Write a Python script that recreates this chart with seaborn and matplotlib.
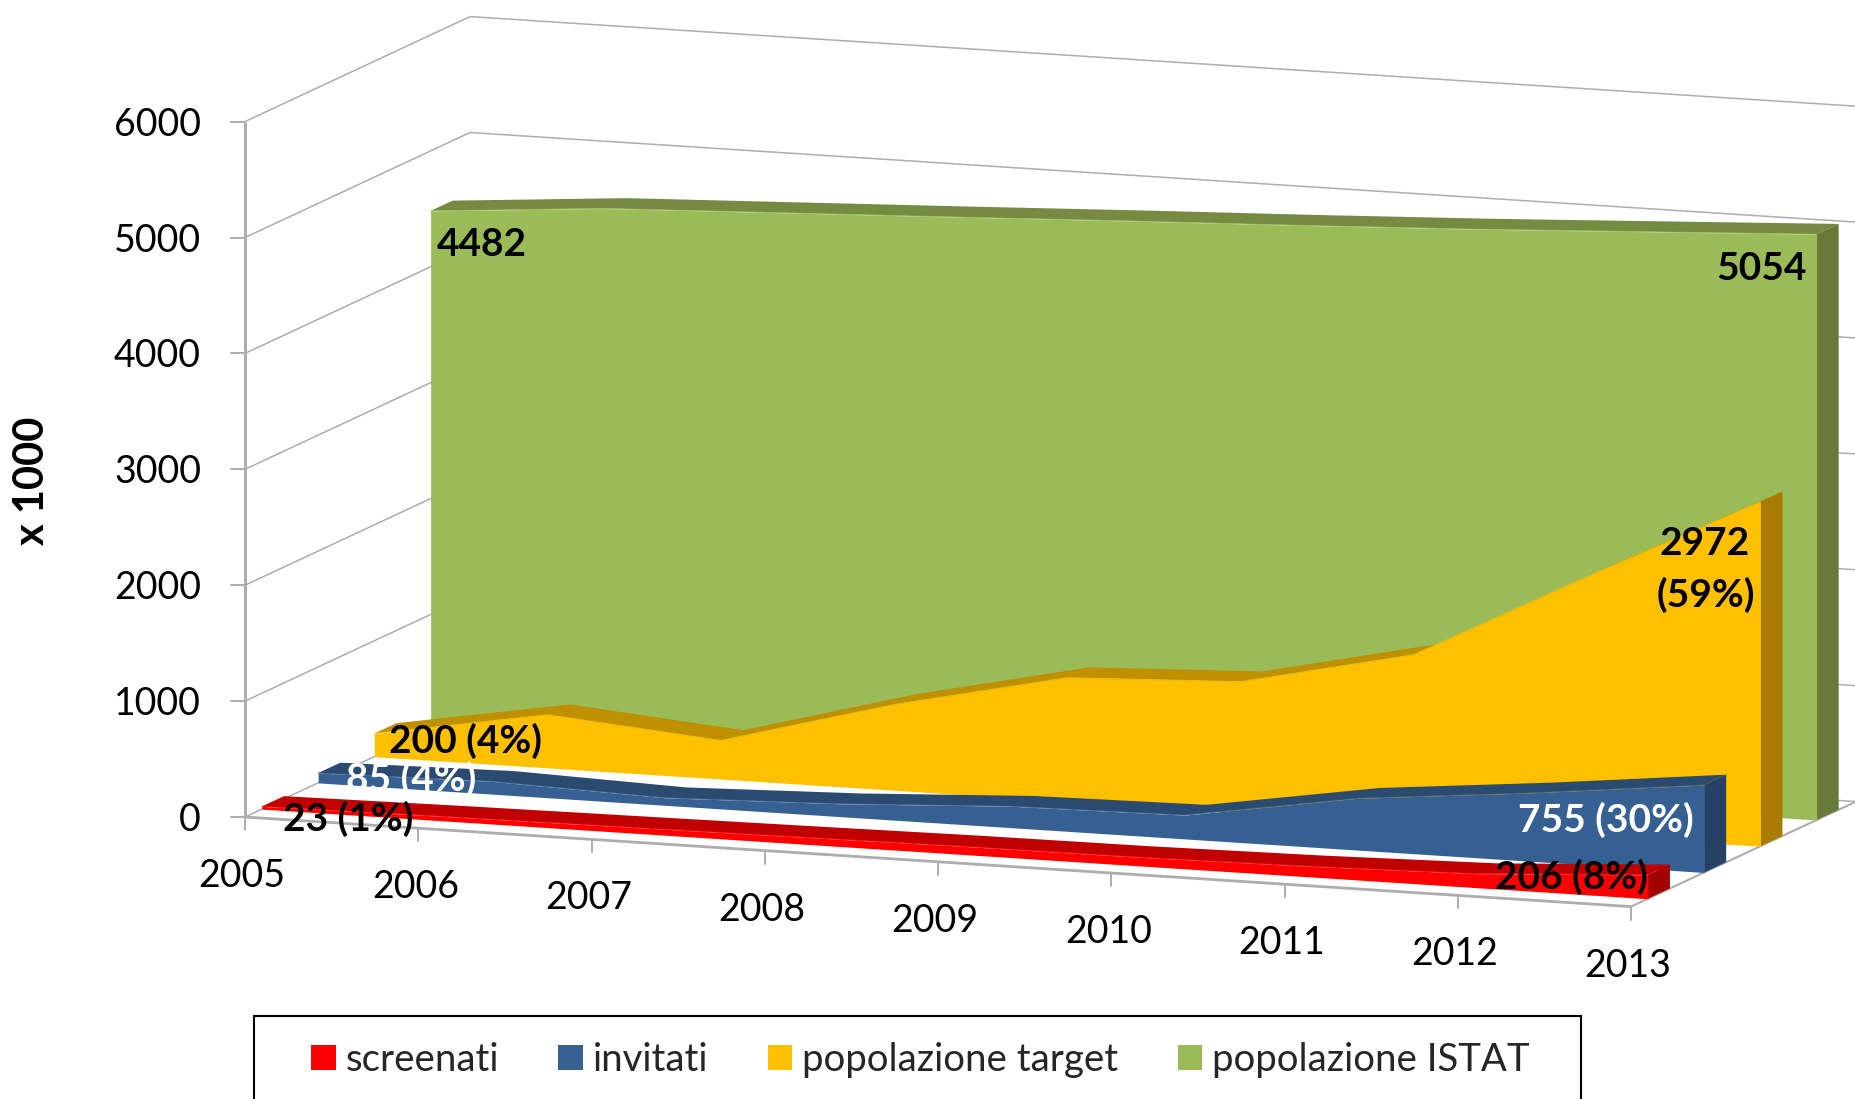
import numpy as np
import matplotlib
matplotlib.use('Agg')
import matplotlib.pyplot as plt
from matplotlib.patches import Patch, Rectangle
import seaborn as sns

# Values
years = [2005, 2006, 2007, 2008, 2009, 2010, 2011, 2012, 2013]
screenati = [23, 38, 48, 58, 70, 74, 90, 120, 206]
invitati = [85, 110, 65, 110, 185, 205, 447, 590, 755]
target = [200, 458, 333, 740, 1068, 1130, 1460, 2230, 2972]
istat = [4482, 4600, 4660, 4720, 4783, 4841, 4905, 4979, 5054]
y_ticks = [0, 1000, 2000, 3000, 4000, 5000, 6000]
series_names = ['screenati', 'invitati', 'popolazione target', 'popolazione ISTAT']

# Fake 3D view of the original chart, in image pixels
X0, Y0 = 245, 817
YEAR_DX, YEAR_DY = 173.25, 11.2
VALUE_DY = 0.1159
DEPTH_DX, DEPTH_DY = 225, 105
THICK = 0.098
GRID = '#ADADAD'
FONT = 'Lato'


def project(year, value, depth):
    t = np.asarray(year, dtype=float) - years[0]
    x = X0 + YEAR_DX * t + DEPTH_DX * depth
    y = Y0 + YEAR_DY * t - VALUE_DY * np.asarray(value, dtype=float) - DEPTH_DY * depth
    return x, y


def line(ax, a, b, lw=1.1, color=GRID):
    ax.plot([a[0], b[0]], [a[1], b[1]], color=color, lw=lw, solid_capstyle='butt', zorder=1)


def draw_area(ax, values, depth, front, top, side):
    # top ribbon, end side and front face, back to front
    xf, yf = project(years, values, depth)
    xb, yb = project(years, values, depth + THICK)
    ax.fill(np.r_[xf, xb[::-1]], np.r_[yf, yb[::-1]], color=top, lw=0, zorder=2)
    last = years[-1]
    corners = [project(last, 0, depth), project(last, values[-1], depth),
               project(last, values[-1], depth + THICK), project(last, 0, depth + THICK)]
    ax.fill([c[0] for c in corners], [c[1] for c in corners], color=side, lw=0, zorder=2)
    xz, yz = project(years, np.zeros(len(years)), depth)
    ax.fill_between(xf, yz, yf, color=front, lw=0, zorder=2)
    sns.lineplot(x=xf, y=yf, color=front, lw=0.6, estimator=None, sort=False, ax=ax, zorder=2)


sns.set_theme(style='white')
plt.rcParams['font.family'] = [FONT, 'DejaVu Sans']

fig = plt.figure(figsize=(18.55, 10.99), dpi=100)
ax = fig.add_axes([0, 0, 1, 1])

# walls
for v in y_ticks:
    p0 = project(years[0], v, 0)
    p1 = project(years[0], v, 1)
    p2 = project(years[-1], v, 1)
    line(ax, p0, p1)
    line(ax, p1, p2)
    ax.plot([p0[0] - 14, p0[0]], [p0[1], p0[1]], color=GRID, lw=1.4, zorder=1)
    ax.text(p0[0] - 44, p0[1] + 3, str(v), ha='right', va='center', fontsize=27, color='black')

line(ax, project(years[0], 0, 0), project(years[0], y_ticks[-1], 0), lw=2.2)
line(ax, project(years[0], 0, 0), project(years[-1], 0, 0), lw=2)
line(ax, project(years[-1], 0, 0), project(years[-1], 0, 1), lw=1.5)

for yr in years:
    x, y = project(yr, 0, 0)
    ax.plot([x, x], [y, y + 13], color=GRID, lw=1.4, zorder=1)
    ax.text(x - 3, y + 59, str(yr), ha='center', va='center', fontsize=27, color='black')

# areas, farthest first
draw_area(ax, istat, 0.825, '#9BBB59', '#768A42', '#677A39')
draw_area(ax, target, 0.575, '#FFC000', '#BF9000', '#A87C00')
draw_area(ax, invitati, 0.325, '#376092', '#2A4A70', '#254265')
draw_area(ax, screenati, 0.075, '#FF0000', '#C00000', '#A50000')

# data labels
labels = [
    (2005, 4482, 0.83, '4482', 50, 34, 'black'),
    (2013, 5054, 0.83, '5054', -56, 35, 'black'),
    (2013, 2972, 0.582, '2972', -57, 42, 'black'),
    (2013, 2972, 0.582, '(59%)', -56, 94, 'black'),
    (2005, 200, 0.582, '200 (4%)', 90, 8, 'black'),
    (2005, 85, 0.329, '85 (4%)', 92, 6, 'white'),
    (2005, 23, 0.08, '23 (1%)', 85, 13, 'black'),
    (2013, 755, 0.329, '755 (30%)', -99, 35, 'white'),
    (2013, 206, 0.08, '206 (8%)', -78, 3, 'black'),
]
for yr, v, d, txt, off_x, off_y, col in labels:
    x, y = project(yr, v, d)
    ax.text(x + off_x, y + off_y, txt, ha='center', va='center', fontsize=28,
            fontweight='bold', color=col, zorder=3)

ax.text(32, 481, 'x 1000', rotation=90, ha='center', va='center', fontsize=30,
        fontweight='bold', color='black')

# legend box, its lower edge runs off the image as in the original
ax.add_patch(Rectangle((254, 1016), 1327, 200, facecolor='white', edgecolor='black', lw=1.5, zorder=4))
handles = [Patch(facecolor=c, edgecolor='none') for c in ['#FF0000', '#376092', '#FFC000', '#9BBB59']]
leg = ax.legend(handles, series_names, ncol=4, loc='upper left', bbox_to_anchor=(311, 1042),
                bbox_transform=ax.transData, fontsize=27.6, frameon=False, borderpad=0,
                handlelength=0.64, handleheight=0.64, handletextpad=0.26,
                columnspacing=1.55, borderaxespad=0)
leg.set_zorder(5)

ax.set_xlim(0, 1855)
ax.set_ylim(1099, 0)
ax.axis('off')

plt.savefig('out.png', dpi=100)
